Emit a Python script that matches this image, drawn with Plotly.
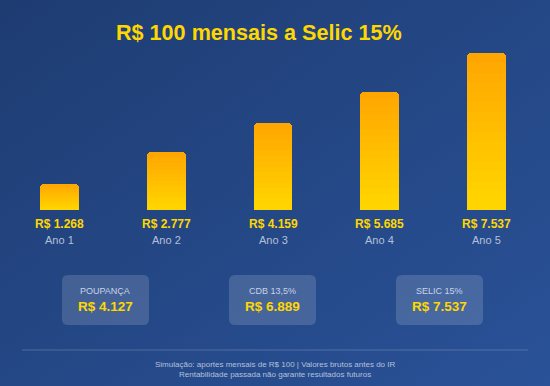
import base64
import plotly.graph_objects as go

# ---- data ----
anos = ["Ano 1", "Ano 2", "Ano 3", "Ano 4", "Ano 5"]
valores = [1268, 2777, 4159, 5685, 7537]
resumo_labels = ["POUPANÇA", "CDB 13,5%", "SELIC 15%"]
resumo_valores = [4127, 6889, 7537]
titulo = "R$ 100 mensais a Selic 15%"
rodape = ["Simulação: aportes mensais de R$ 100 | Valores brutos antes do IR",
          "Rentabilidade passada não garante resultados futuros"]

W, H = 550, 386
FONT = "Liberation Sans, Arial, sans-serif"
GOLD = "#FFD700"


def brl(v):
    return "R$ " + f"{v:,}".replace(",", ".")


def px(x):  # pixel x -> paper
    return x / W


def py(y):  # pixel y -> paper
    return 1 - y / H


def mix(c1, c2, t):
    a = [int(c1[i:i + 2], 16) for i in (1, 3, 5)]
    b = [int(c2[i:i + 2], 16) for i in (1, 3, 5)]
    return "#" + "".join(f"{round(a[i] + (b[i] - a[i]) * t):02x}" for i in range(3))


fig = go.Figure()

# gradient bars: overlaid layers of decreasing height (orange top -> gold bottom)
N = 16
x_idx = list(range(len(anos)))
for k in range(N):
    f = 1 - k / N
    col = mix("#FFA500", GOLD, (k + 0.5) / N)
    fig.add_trace(go.Bar(
        x=x_idx, y=[v * f for v in valores], width=0.364,
        marker=dict(color=col, line=dict(width=0), cornerradius=4),
        hoverinfo="skip", showlegend=False))

# background gradient as svg image
svg = ('<svg xmlns="http://www.w3.org/2000/svg" width="550" height="386">'
       '<defs><linearGradient id="g" x1="0" y1="0" x2="1" y2="1">'
       '<stop offset="0" stop-color="#1e3c72"/><stop offset="1" stop-color="#2a5298"/>'
       '</linearGradient></defs><rect width="550" height="386" fill="url(#g)"/></svg>')
src = "data:image/svg+xml;base64," + base64.b64encode(svg.encode()).decode()

annotations = []
# title
annotations.append(dict(text=f"<b>{titulo}</b>", x=px(259), y=py(33), xref="paper", yref="paper",
                        showarrow=False, font=dict(family=FONT, size=21.6, color=GOLD),
                        xanchor="center", yanchor="middle"))
# bar labels
for i, (a, v) in enumerate(zip(anos, valores)):
    annotations.append(dict(text=f"<b>{brl(v)}</b>", x=i, y=0, xref="x", yref="y",
                            showarrow=False, yanchor="middle", yshift=-14,
                            font=dict(family=FONT, size=12, color=GOLD)))
    annotations.append(dict(text=a, x=i, y=0, xref="x", yref="y",
                            showarrow=False, yanchor="middle", yshift=-30,
                            font=dict(family=FONT, size=11, color="#b4c0da")))

shapes = []
# summary boxes
box_centers = [105.5, 272.5, 439.5]
bw, bh, by0, r = 87, 50, 275, 6


def rrect(x0, y0, x1, y1, r):
    pts = (f"M {px(x0 + r)},{py(y0)} L {px(x1 - r)},{py(y0)} "
           f"Q {px(x1)},{py(y0)} {px(x1)},{py(y0 + r)} L {px(x1)},{py(y1 - r)} "
           f"Q {px(x1)},{py(y1)} {px(x1 - r)},{py(y1)} L {px(x0 + r)},{py(y1)} "
           f"Q {px(x0)},{py(y1)} {px(x0)},{py(y1 - r)} L {px(x0)},{py(y0 + r)} "
           f"Q {px(x0)},{py(y0)} {px(x0 + r)},{py(y0)} Z")
    return pts


for cx, lab, v in zip(box_centers, resumo_labels, resumo_valores):
    shapes.append(dict(type="path", xref="paper", yref="paper",
                       path=rrect(cx - bw / 2, by0, cx + bw / 2, by0 + bh, r),
                       fillcolor="rgba(255,255,255,0.15)", line=dict(width=0), layer="below"))
    annotations.append(dict(text=lab, x=px(cx), y=py(291), xref="paper", yref="paper",
                            showarrow=False, xanchor="center", yanchor="middle",
                            font=dict(family=FONT, size=9, color="#c8d2e8")))
    annotations.append(dict(text=f"<b>{brl(v)}</b>", x=px(cx), y=py(306), xref="paper", yref="paper",
                            showarrow=False, xanchor="center", yanchor="middle",
                            font=dict(family=FONT, size=13.5, color=GOLD)))

# divider
shapes.append(dict(type="line", xref="paper", yref="paper", x0=px(22), x1=px(528),
                   y0=py(350), y1=py(350), line=dict(color="rgba(255,255,255,0.2)", width=1)))
for j, t in enumerate(rodape):
    annotations.append(dict(text=t, x=0.5, y=py(364 + 10 * j), xref="paper", yref="paper",
                            showarrow=False, xanchor="center", yanchor="middle",
                            font=dict(family=FONT, size=8, color="#b4c0da")))

fig.update_layout(
    width=W, height=H, margin=dict(l=0, r=0, t=0, b=0),
    paper_bgcolor="#1e3c72", plot_bgcolor="rgba(0,0,0,0)",
    barmode="overlay", bargap=0,
    xaxis=dict(range=[-59.5 / 107, 4 + 63.5 / 107], visible=False, fixedrange=True),
    yaxis=dict(range=[0, max(valores)], domain=[py(210), py(53)], visible=False, fixedrange=True),
    images=[dict(source=src, xref="paper", yref="paper", x=0, y=1, sizex=1, sizey=1,
                 sizing="stretch", layer="below", xanchor="left", yanchor="top")],
    shapes=shapes, annotations=annotations, showlegend=False,
)

fig.write_html("out.html", config={"displayModeBar": False},
               post_script="document.body.style.margin='0';document.body.style.overflow='hidden';")
